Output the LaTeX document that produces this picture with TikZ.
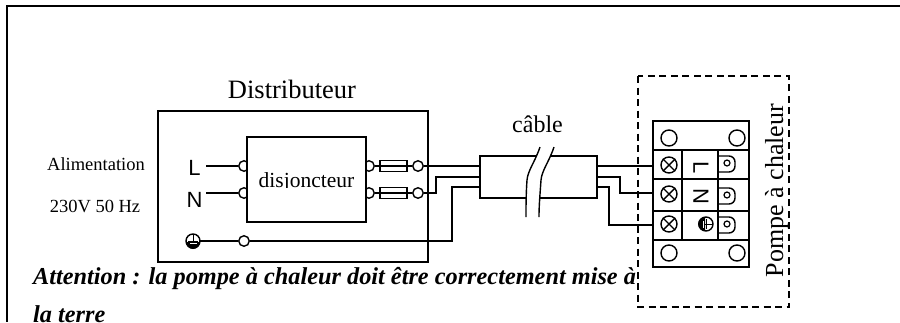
\documentclass[tikz,border=0pt]{standalone}
\usepackage{xcolor}
\usepackage{fontspec}
\setmainfont{Liberation Serif}
\newfontfamily\sansfont{Liberation Sans}
\tikzset{
    wire/.style={line width=1.4pt},
    plot/.style={circle, draw, line width=1.4pt, inner sep=0pt, minimum size=10.5pt},
    fuse/.style={rectangle, draw, line width=1.4pt, inner sep=0pt, minimum width=27pt, minimum height=11pt},
    box/.style={rectangle, draw, fill=white, line width=1.6pt, inner sep=0pt},
    lbl/.style={inner sep=0pt, anchor=base},
    phase/.style={inner sep=0pt, minimum width=23pt, font=\sansfont\fontsize{22}{22}\selectfont},
    avis/.style={lbl, anchor=base west, font=\bfseries\itshape\fontsize{24.3}{24.3}\selectfont},
    earth/.pic={
        \draw[line width=1.4pt] (0,0) circle (7pt);
        \fill (-7,1) -- (7,1) arc (0:-180:7pt) -- cycle;
        \draw[line width=1pt] (0,-6) -- (0,1) (-5,0) -- (5,0);
        \fill[white] (-3.5,2) rectangle (3.5,3.4);
        \coordinate (-e) at (7,0);
    }
}
\begin{document}
\begin{tikzpicture}[x=1pt, y=-1pt, line join=miter]
    \clip (0,0) rectangle (900,322);
    \fill[white] (0,0) rectangle (900,322);
    \draw[line width=2pt] (900,5.5) -- (7,5.5) -- (7,322);

    \node [box, minimum width=270pt, minimum height=151pt] (distrib) at (293,186.5) {};
    \node [lbl, font=\fontsize{26.5}{26.5}\selectfont] (titre) at (292,98) {Distributeur};
    \node [lbl, font=\fontsize{18.5}{18.5}\selectfont] (alim) at (96,170) {Alimentation};
    \node [lbl, font=\fontsize{18.5}{18.5}\selectfont] (tension) at (95,212) {230V 50 Hz};

    \node [phase] (phL) at (194.5,167.5) {L};
    \node [phase] (phN) at (194.5,199.5) {N};
    \pic (gnd) at (193,241) {earth};

    \node [plot, fill=white] (inL) at (244,166) {};
    \node [plot, fill=white] (inN) at (244,193) {};
    \node [plot, fill=white] (outL) at (369,166) {};
    \node [plot, fill=white] (outN) at (369,193) {};
    \node [box, minimum width=119pt, minimum height=85pt] (disj) at (306.5,179.5) {};
    \begin{scope}
        \clip (250,150) rectangle (362,187.5);
        \node [lbl, font=\fontsize{21.5}{21.5}\selectfont] (disjtxt) at (306.5,187) {disjoncteur};
    \end{scope}

    \node [plot] (borneL) at (418,166) {};
    \node [plot] (borneN) at (418,193) {};
    \node [plot] (borneT) at (244,241) {};
    \node [fuse] (fuseL) at (393.5,166) {};
    \node [fuse] (fuseN) at (393.5,193) {};

    \draw [wire] (phL.east |- inL) -- (inL);
    \draw [wire] (phN.east |- inN) -- (inN);
    \draw [wire] (gnd-e) -- (borneT);
    \draw [wire] (outL) -- (borneL);
    \draw [wire] (outN) -- (borneN);

    \node [rectangle, draw, line width=1.6pt, inner sep=0pt, minimum width=117pt, minimum height=42pt] (cable) at (538.5,177) {};
    \node [lbl, font=\fontsize{24}{24}\selectfont] (cabletxt) at (537.5,132) {câble};
    \fill [white] (540,147) .. controls (535,162) and (528,170) .. (527,180) .. controls (526,195) and (526,205) .. (526,217)
        -- (539,217) .. controls (539,205) and (540,195) .. (541,180) .. controls (542,170) and (549,162) .. (554,147) -- cycle;
    \draw [wire] (540,147) .. controls (535,162) and (528,170) .. (527,180) .. controls (526,195) and (526,205) .. (526,217);
    \draw [wire] (554,147) .. controls (549,162) and (542,170) .. (541,180) .. controls (540,195) and (539,205) .. (539,217);

    \node [rectangle, draw, line width=1.6pt, inner sep=0pt, minimum width=96pt, minimum height=146pt] (bornier) at (701,194) {};
    \foreach \y in {150,179,211,240} {
        \draw [wire] (bornier.west |- 0,\y) -- (bornier.east |- 0,\y);
    }
    \draw [wire] (682,150) -- (682,240);
    \draw [wire] (718,150) -- (718,240);
    \foreach \x in {669,737} {
        \foreach \y in {138,253} {
            \node [circle, draw, line width=1.4pt, inner sep=0pt, minimum size=16pt] (trou\x\y) at (\x,\y) {};
        }
    }
    \foreach \n/\y in {L/165,N/194,T/224} {
        \node [circle, draw, line width=1.4pt, inner sep=0pt, minimum size=16pt] (vis\n) at (669,\y) {};
        \draw [line width=1.4pt] (vis\n.north west) -- (vis\n.south east) (vis\n.north east) -- (vis\n.south west);
    }
    \foreach \n/\y in {L/163,N/195,T/224} {
        \draw [wire, rounded corners=6pt] (718,\y-7) -- (735,\y-7) -- (735,\y+9) -- (718,\y+9);
        \node [circle, draw, line width=1.2pt, inner sep=0pt, minimum size=6pt] (cosse\n) at (727,\y) {};
    }
    \node [phase, rotate=-90] (blocL) at (701,167.5) {L};
    \node [phase, rotate=-90] (blocN) at (701,196.5) {N};
    \pic [rotate=-90] (blocT) at (706,224) {earth};

    \coordinate (cabLa) at (cable.west |- borneL);
    \coordinate (cabNa) at (480,177);
    \coordinate (cabTa) at (480,187);
    \coordinate (cabNb) at (597,177);
    \coordinate (cabTb) at (597,187);
    \coordinate (entL) at (653,166);
    \coordinate (entN) at (653,193);
    \coordinate (entT) at (653,225);
    \draw [wire] (borneL) -- (cabLa);
    \draw [wire] (borneN) -- (436,193) -- (436,177) -- (cabNa);
    \draw [wire] (borneT) -- (452,241) -- (452,187) -- (cabTa);
    \draw [wire] (cable.east |- entL) -- (entL);
    \draw [wire] (cabNb) -- (620,177) -- (620,193) -- (entN);
    \draw [wire] (cabTb) -- (609,187) -- (609,225) -- (entT);

    \node [avis] (attention) at (33,284) {Attention : la pompe à chaleur doit être correctement mise à};
    \node [avis] (terre) at (33,322) {la terre};

    \draw [line width=1.5pt, dash pattern=on 7pt off 4.5pt] (638,76) rectangle (789,307);
    \node [lbl, rotate=90, font=\fontsize{26}{26}\selectfont] (pompe) at (783,190.5) {Pompe à chaleur};
\end{tikzpicture}
\end{document}
